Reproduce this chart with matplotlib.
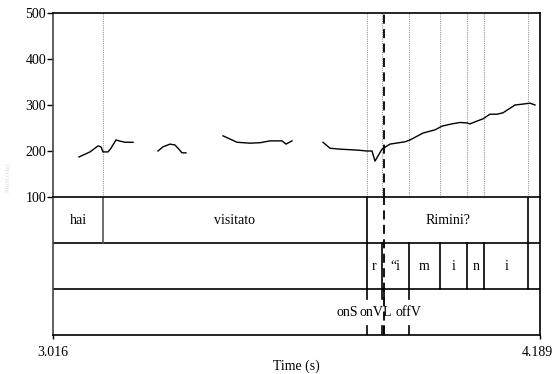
import matplotlib
matplotlib.use("Agg")
import matplotlib.pyplot as plt
import matplotlib.transforms as mtransforms

plt.rcParams['font.family'] = ['Liberation Serif', 'DejaVu Serif']

t_min, t_max = 3.016, 4.189

# Pitch contour segments (time s, Hz)
seg1_t = [3.0786, 3.1051, 3.1244, 3.1316, 3.1364, 3.1485, 3.1557, 3.1677, 3.1750, 3.1894, 3.2087]
seg1_f = [187, 198, 211, 209, 198, 198, 206, 224, 222, 219, 219]
seg2_t = [3.2689, 3.2809, 3.2978, 3.3098, 3.3171, 3.3267, 3.3363]
seg2_f = [200, 209, 215, 213, 206, 196, 196]
seg3_t = [3.4255, 3.4592, 3.4905, 3.5146, 3.5387, 3.5676, 3.5772, 3.5917]
seg3_f = [233, 219, 217, 218, 222, 222, 215, 222]
seg4_t = [3.6663, 3.6832, 3.7073, 3.7482, 3.7723, 3.7844, 3.7916, 3.8084, 3.8277,
          3.8638, 3.8759, 3.9072, 3.9361, 3.9529, 3.9770, 3.9963, 4.0131, 4.0204,
          4.0372, 4.0517, 4.0685, 4.0854, 4.0998, 4.1287, 4.1480, 4.1649, 4.1769]
seg4_f = [219, 206, 204, 202, 200, 200, 178, 204, 215, 220, 224, 239, 246, 254,
          259, 262, 261, 259, 265, 270, 280, 280, 283, 300, 302, 304, 300]

# Tier 1 (words)
words = ["hai", "visitato", "Rimini?", ""]
word_bounds = [3.016, 3.1364, 3.7723, 4.1608, 4.189]
# Tier 2 (phones)
phones = ["", "r", "\u201ci", "m", "i", "n", "i", ""]
phone_bounds = [3.016, 3.7723, 3.8084, 3.8742, 3.9474, 4.0139, 4.0549, 4.1608, 4.189]
# Tier 3 (points)
point_times = [3.7723, 3.8084, 3.8132, 3.8742]
point_labels = ["onS", "onV", "L", "offV"]
point_label_pos = [3.7241, 3.7819, 3.8190, 3.8710]
dashed_time = 3.8132
time_ticks = [t_min, t_max]
time_tick_labels = ["3.016", "4.189"]

W, H = 554, 374
fig = plt.figure(figsize=(W / 100, H / 100), dpi=100)
left = 53 / W
width = (540 - 53) / W
axp = fig.add_axes([left, 1 - 197 / H, width, (197 - 13) / H])
axt = fig.add_axes([left, 1 - 335 / H, width, (335 - 197) / H], sharex=axp)

# Pitch panel
for t_seg, f_seg in [(seg1_t, seg1_f), (seg2_t, seg2_f), (seg3_t, seg3_f), (seg4_t, seg4_f)]:
    axp.plot(t_seg, f_seg, color='black', lw=1.0, zorder=3)

all_bounds = sorted(set(word_bounds[1:-1] + phone_bounds[1:-1] + point_times))
for b in all_bounds:
    if abs(b - dashed_time) < 1e-6:
        continue
    axp.axvline(b, color='#999999', lw=0.8, ls=(0, (1, 1)), zorder=1)

axp.set_xlim(t_min, t_max)
axp.set_ylim(100, 500)
axp.set_yticks([100, 200, 300, 400, 500])
axp.tick_params(axis='y', direction='out', length=4, width=1, labelsize=10, pad=1)
axp.tick_params(axis='x', bottom=False, labelbottom=False)
axp.spines['bottom'].set_visible(False)
for s in ['left', 'top', 'right']:
    axp.spines[s].set_linewidth(1.2)
axp.spines['left'].set_color('#444444')
fig.text(8 / W, 1 - 178 / H, "Pitch (Hz)", rotation=90, fontsize=5,
         color='#d8d8d8', ha='center', va='center')

# Tier panel
axt.set_ylim(0, 3)
for y in [1, 2]:
    axt.axhline(y, color='black', lw=1.2)
for b in word_bounds[1:-1]:
    axt.plot([b, b], [2, 3], color='#555555' if b < 3.5 else 'black', lw=1.2)
for b in phone_bounds[1:-1]:
    axt.plot([b, b], [1, 2], color='black', lw=1.2)
for lab, a, b in zip(words, word_bounds[:-1], word_bounds[1:]):
    if lab:
        axt.text((a + b) / 2, 2.5, lab, ha='center', va='center', fontsize=10)
for lab, a, b in zip(phones, phone_bounds[:-1], phone_bounds[1:]):
    if lab:
        axt.text((a + b) / 2, 1.5, lab, ha='center', va='center', fontsize=10)
for pt in point_times:
    axt.plot([pt, pt], [1, 0.78], color='black', lw=1.2)
    axt.plot([pt, pt], [0.0, 0.2], color='black', lw=1.2)
for lab, x in zip(point_labels, point_label_pos):
    axt.text(x, 0.5, lab, ha='center', va='center', fontsize=10)

axt.set_yticks([])
axt.set_xticks(time_ticks)
axt.set_xticklabels(time_tick_labels)
axt.tick_params(axis='x', direction='out', length=3, width=1, labelsize=10, pad=5)
# shift the right-hand label slightly left so it stays inside the image
lbls = axt.get_xticklabels()
lbls[-1].set_transform(lbls[-1].get_transform() +
                       mtransforms.ScaledTranslation(-3 / 100, 0, fig.dpi_scale_trans))
for s in axt.spines.values():
    s.set_linewidth(1.2)
axt.spines['left'].set_color('#444444')
axt.set_xlabel("Time (s)", fontsize=10, labelpad=0)

# Dashed line through all panels
for ax, lo, hi in [(axp, 100, 500), (axt, 0, 3)]:
    ax.plot([dashed_time, dashed_time], [lo, hi], color='black', lw=1.3,
            ls=(0, (5, 3)), zorder=4, clip_on=False)

fig.savefig("out.png", dpi=100)
